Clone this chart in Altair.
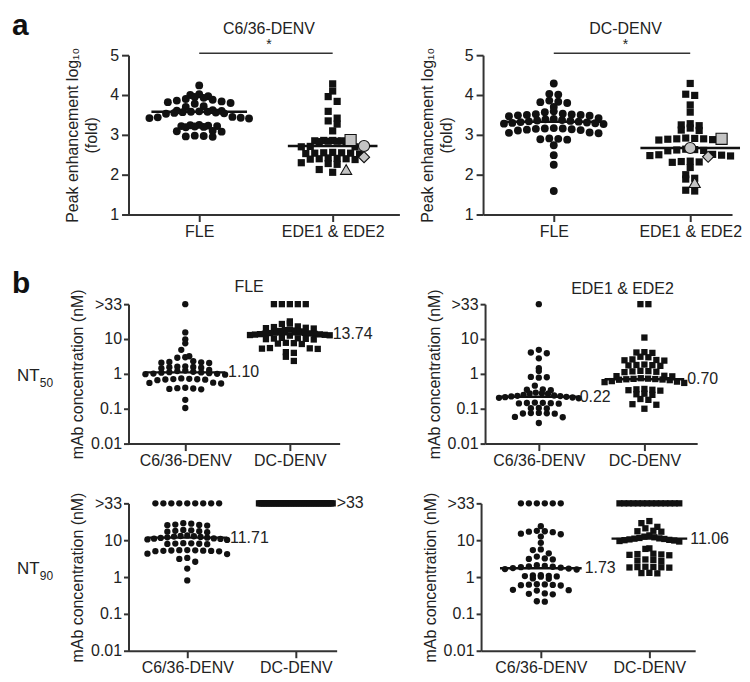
import math
import altair as alt
import pandas as pd

GT = ">33"  # above the top of the dilution series

# ---------------- a : peak enhancement, log10 (fold) ----------------
a_groups = ["FLE", "EDE1 & EDE2"]
a_c636_fle = [4.24, 4.02, 4.00, 3.97, 3.95, 3.93, 3.90, 3.88, 3.86, 3.84, 3.82, 3.80, 3.78,
              3.72, 3.70,
              3.62, 3.61, 3.60, 3.59, 3.58, 3.58, 3.57, 3.56, 3.55, 3.54, 3.53,
              3.45, 3.44, 3.43, 3.42, 3.41,
              3.25, 3.24, 3.23, 3.22, 3.22, 3.21, 3.20, 3.19,
              3.10, 3.09, 3.08,
              2.98, 2.97, 2.96, 2.95]
a_c636_ede = [4.28, 4.10, 3.96, 3.84, 3.59, 3.42, 3.35, 3.27, 3.10,
              2.86, 2.86, 2.85, 2.85, 2.84, 2.84, 2.83, 2.83,
              2.71, 2.70, 2.70,
              2.56, 2.55, 2.55, 2.54, 2.54, 2.53, 2.52,
              2.42, 2.41, 2.40, 2.40, 2.39, 2.38,
              2.30, 2.28, 2.26, 2.13, 2.06]
special_shapes = ["circle", "square", "diamond", "triangle-up"]
a_c636_special = [2.72, 2.87, 2.44, 2.13]
a_c636_medians = [3.58, 2.72]

a_dc_fle = [4.29, 4.03, 4.01, 3.86, 3.83, 3.82, 3.80, 3.70, 3.59, 3.57,
            3.53, 3.52, 3.51, 3.50, 3.50, 3.49, 3.48, 3.47,
            3.42, 3.40, 3.39, 3.37, 3.36, 3.35, 3.34, 3.33, 3.32, 3.31, 3.30, 3.29, 3.28, 3.27,
            3.17, 3.16, 3.16, 3.15, 3.14, 3.13, 3.12, 3.11,
            3.06, 3.05, 3.04,
            2.91, 2.90, 2.89, 2.88,
            2.74, 2.49, 2.25, 1.59]
a_dc_ede = [4.29, 4.02, 3.99, 3.75, 3.57, 3.28, 3.25, 3.23, 3.17, 3.12, 3.11,
            2.92, 2.91, 2.90, 2.90, 2.89, 2.88, 2.87,
            2.64, 2.63, 2.62, 2.61, 2.60,
            2.51, 2.50, 2.49, 2.48, 2.47,
            2.34, 2.33, 2.32, 2.31,
            2.18, 2.00, 1.91, 1.89, 1.61, 1.59]
a_dc_special = [2.67, 2.90, 2.45, 1.80]
a_dc_medians = [3.33, 2.67]

# ---------------- b : neutralisation, mAb concentration (nM) ----------------
b_groups = ["C6/36-DENV", "DC-DENV"]
nt50_fle_c636 = [GT, 15.5, 9.8, 7.5, 4.9, 3.2, 3.0, 2.9, 2.3, 2.2, 2.15, 2.1, 2.05,
                 1.65, 1.6, 1.58, 1.55, 1.5, 1.45,
                 1.3, 1.25, 1.2, 1.15, 1.12, 1.1, 1.08, 1.05, 1.02, 1.0, 0.98, 0.95,
                 0.74, 0.72, 0.71, 0.70, 0.69, 0.68, 0.66,
                 0.56, 0.55, 0.53,
                 0.40, 0.39, 0.38, 0.37, 0.36,
                 0.18, 0.105]
nt50_fle_dc = [GT, GT, GT, GT, GT, 32, 28, 27, 23, 22, 21, 20.5, 20, 18.5, 18, 17.5, 17, 16.5,
               15.5, 15, 14.8, 14.5, 14.2, 14, 13.8, 13.6, 13.4, 13.2, 13, 12.8, 12.5,
               10.8, 10.5, 10.3, 10.1, 9.9, 9.7,
               7.8, 7.6, 7.4, 7.2,
               5.5, 5.4, 5.3, 5.2,
               4.2, 4.0, 3.1, 2.35]
nt50_fle_medians = [1.10, 13.74]

nt50_ede_c636 = [GT, 4.9, 4.1, 3.9, 2.8, 1.45, 1.2, 0.82, 0.80, 0.78, 0.46,
                 0.36, 0.35, 0.34, 0.29, 0.28, 0.275, 0.27,
                 0.25, 0.24, 0.235, 0.23, 0.225, 0.22, 0.215, 0.21, 0.205, 0.20,
                 0.15, 0.148, 0.146, 0.144, 0.142, 0.14,
                 0.105, 0.104, 0.102,
                 0.076, 0.075, 0.074, 0.073, 0.072,
                 0.058, 0.057, 0.039]
nt50_ede_dc = [GT, GT, 11, 4.2, 4.1, 4.0, 3.1, 3.0, 2.6, 2.5, 2.45, 2.4,
               1.85, 1.8, 1.78, 1.75, 1.7,
               1.22, 1.2, 1.18, 1.15, 1.12,
               0.88, 0.86, 0.85,
               0.75, 0.73, 0.72, 0.71, 0.70, 0.69, 0.68, 0.66, 0.62, 0.60, 0.58, 0.55,
               0.37, 0.36, 0.35, 0.34, 0.33,
               0.27, 0.26, 0.25,
               0.19, 0.18, 0.135, 0.13, 0.10]
nt50_ede_medians = [0.22, 0.70]

nt90_fle_c636 = [GT, GT, GT, GT, GT, GT, GT, GT, GT,
                 29, 28, 26.5, 26, 25.5, 25, 19, 18.5, 18, 17.5, 17, 16.5,
                 13.5, 13, 12.8, 12.5, 12.2, 12, 11.7, 11.5, 11.2, 11, 10.8, 10.5, 10.2,
                 8.3, 8.2, 8.1, 8.0, 7.9, 7.8,
                 5.4, 5.35, 5.3, 5.25, 5.2, 5.15, 5.1, 5.05, 5.0,
                 4.3, 4.2, 3.3, 3.1, 2.6, 1.7, 0.81]
nt90_fle_dc = [GT] * 45
nt90_fle_medians = [11.71, GT]

nt90_ede_c636 = [GT, GT, GT, GT, GT, GT,
                 24, 18, 17.5, 17, 16.5, 15, 14.5, 12.5, 8.5, 5.6, 5.4, 4.4, 3.6, 3.2, 3.1, 3.0,
                 2.1, 2.0, 1.95, 1.9, 1.85, 1.8, 1.75, 1.7, 1.65, 1.6,
                 1.12, 1.1, 1.08, 1.06, 1.04, 1.02, 0.92, 0.90,
                 0.64, 0.63, 0.62, 0.61, 0.60, 0.59,
                 0.45, 0.44, 0.43, 0.36, 0.35, 0.34, 0.22, 0.215]
nt90_ede_dc = [GT] * 14 + [33, 29, 23, 21, 18, 17.5, 17,
               13.5, 12.5, 12, 11.5, 11.2, 11, 10.8, 10.5, 10.2, 10, 9.8, 9.5, 9.2,
               6.0, 5.8, 4.3, 4.2, 4.1, 4.0, 3.9, 3.0, 2.9, 2.8, 2.7,
               1.9, 1.88, 1.86, 1.84, 1.82, 1.8, 1.3, 1.28, 1.26]
nt90_ede_medians = [1.73, 11.06]

# ---------------- styling ----------------
FONT = "Liberation Sans"
INK = "#111111"
TXT = "#222222"
AXC = "#333333"
GRAY = "#c4c4c4"
GT_POS = 100.0  # where the ">33" row sits on the log axis


def plotval(v):
    return GT_POS if v == GT else float(v)


def fmt(v):
    return GT if v == GT else f"{v:.2f}"


def swarm(vals, h, lo, hi, log, row_px, step_px, max_px):
    """GraphPad-like scatter: points in the same pixel row are spread sideways."""
    def ypx(v):
        if log:
            t = (math.log10(v) - math.log10(lo)) / (math.log10(hi) - math.log10(lo))
        else:
            t = (v - lo) / (hi - lo)
        return h * (1 - t)
    ys = [ypx(v) for v in vals]
    rows = {}
    for i, y in enumerate(ys):
        rows.setdefault(int(round(y / row_px)), []).append(i)
    offs = [0.0] * len(vals)
    for idx in rows.values():
        m = len(idx)
        s = step_px if m < 2 or (m - 1) * step_px <= max_px else max_px / (m - 1)
        slots = sorted([(j - (m - 1) / 2) * s for j in range(m)], key=lambda o: (abs(o), o))
        for i, o in zip(idx, slots):
            offs[i] = o
    return offs


def panel(kind, groups, names, medians, specials, w, h, t0, gap, hw, row_px, step_px,
          max_px, dot_size, sq_size, med_labels, annots, rules=()):
    log = kind == "b"
    lo, hi = (0.01, 100.0) if log else (1.0, 5.0)
    xs = alt.Scale(domain=[-t0 / gap, (w - t0) / gap], nice=False, zero=False)
    if log:
        ys = alt.Scale(type="log", domain=[lo, hi], nice=False)
        yaxis = alt.Axis(values=[0.01, 0.1, 1, 10, 100],
                         labelExpr="datum.value >= 50 ? '>33' : datum.value >= 5 ? '10' : "
                                   "datum.value >= 0.5 ? '1' : datum.value >= 0.05 ? '0.1' : '0.01'",
                         tickSize=5, labelPadding=2, title="mAb concentration (nM)",
                         titlePadding=5)
        xaxis = alt.Axis(values=[0, 1], labelExpr="datum.value < 0.5 ? '%s' : '%s'" % tuple(names),
                         tickSize=7, labelPadding=2, title=None)
    else:
        ys = alt.Scale(domain=[lo, hi], nice=False, zero=False)
        yaxis = alt.Axis(values=[1, 2, 3, 4, 5], format="d", tickSize=7, labelPadding=3,
                         title=["Peak enhancement log\u2081\u2080", "(fold)"], titlePadding=10,
                         titleLineHeight=19)
        xaxis = alt.Axis(values=[0, 1], labelExpr="datum.value < 0.5 ? '%s' : '%s'" % tuple(names),
                         tickSize=7, labelPadding=2, title=None)

    dots, sqs, spc = [], [], []
    for gi, vals in enumerate(groups):
        items = [(plotval(v), "dot" if gi == 0 else "sq") for v in vals]
        if gi == 1 and specials:
            items += [(v, s) for v, s in zip(specials, special_shapes)]
        offs = swarm([v for v, _ in items], h, lo, hi, log, row_px, step_px, max_px[gi])
        for (v, k), o in zip(items, offs):
            rec = {"x": gi + o / gap, "y": v, "kind": k}
            (dots if k == "dot" else sqs if k == "sq" else spc).append(rec)

    X = lambda f: alt.X(f, type="quantitative", scale=xs, axis=xaxis)
    Y = lambda f: alt.Y(f, type="quantitative", scale=ys, axis=yaxis)

    layers = [
        alt.Chart(pd.DataFrame(dots)).mark_circle(size=dot_size, color=INK, opacity=1)
        .encode(x=X("x"), y=Y("y")),
        alt.Chart(pd.DataFrame(sqs)).mark_square(size=sq_size, color=INK, opacity=1)
        .encode(x=X("x"), y=Y("y")),
    ]
    med = pd.DataFrame({
        "x": [i - hw[i] / gap for i in range(2)],
        "x2": [i + hw[i] / gap for i in range(2)],
        "y": [plotval(m) for m in medians],
        "label": [fmt(m) for m in medians],
    })
    layers.append(alt.Chart(med).mark_rule(color=INK, strokeWidth=2.4)
                  .encode(x=X("x"), x2="x2:Q", y=Y("y")))
    if spc:
        layers.append(
            alt.Chart(pd.DataFrame(spc)).mark_point(filled=True, fill=GRAY, stroke=INK,
                                                    strokeWidth=1.1, size=125, opacity=1)
            .encode(x=X("x"), y=Y("y"),
                    shape=alt.Shape("kind:N", scale=alt.Scale(domain=special_shapes,
                                                              range=special_shapes), legend=None)))
    if med_labels:
        layers.append(alt.Chart(med).mark_text(align="left", baseline="middle", dx=3, font=FONT,
                                               fontSize=16, color=TXT)
                      .encode(x=alt.X("x2", type="quantitative", scale=xs, axis=xaxis),
                              y=Y("y"), text="label:N"))
    for (x1, x2, yv) in rules:
        layers.append(alt.Chart(pd.DataFrame({"x": [x1], "x2": [x2]}))
                      .mark_rule(color=AXC, strokeWidth=1.6)
                      .encode(x=X("x"), x2="x2:Q", y=alt.value(yv)))
    for t in annots:
        txt, px, py, fs = t[:4]
        opts = dict(font=FONT, fontSize=fs, color=TXT, align="center", baseline="middle")
        if len(t) > 4:
            opts.update(t[4])
        layers.append(alt.Chart(pd.DataFrame({"t": [txt]})).mark_text(**opts)
                      .encode(text="t:N", x=alt.value(px), y=alt.value(py)))
    return alt.layer(*layers).properties(width=w, height=h)


BOLD = {"fontWeight": "bold", "align": "left", "baseline": "alphabetic", "color": "#111111"}
LEFT = {"align": "left"}

aL = panel("a", [a_c636_fle, a_c636_ede], a_groups, a_c636_medians, a_c636_special,
           w=272, h=160, t0=71, gap=134, hw=[48, 45], row_px=7.5, step_px=9,
           max_px=[100, 100], dot_size=62, sq_size=52, med_labels=False,
           annots=[("a", -117, -20, 30, BOLD), ("C6/36-DENV", 141, -26, 16), ("*", 141, -10, 14)],
           rules=[(0, 1, -2)])
aR = panel("a", [a_dc_fle, a_dc_ede], a_groups, a_dc_medians, a_dc_special,
           w=250, h=160, t0=71, gap=137, hw=[52, 50], row_px=7.5, step_px=9,
           max_px=[100, 100], dot_size=62, sq_size=52, med_labels=False,
           annots=[("DC-DENV", 143, -26, 16), ("*", 143, -10, 14)],
           rules=[(0, 1, -2)])

b1L = panel("b", [nt50_fle_c636, nt50_fle_dc], b_groups, nt50_fle_medians, None,
            w=212, h=140, t0=57, gap=105, hw=[40, 40], row_px=7, step_px=8,
            max_px=[80, 80], dot_size=40, sq_size=40, med_labels=True,
            annots=[("b", -117, -11, 30, BOLD), ("FLE", 121, -17, 16),
                    ("NT", -112, 72, 17, LEFT), ("50", -89, 79, 12, LEFT)])
b1R = panel("b", [nt50_ede_c636, nt50_ede_dc], b_groups, nt50_ede_medians, None,
            w=213, h=140, t0=54, gap=106, hw=[38, 40], row_px=7, step_px=8,
            max_px=[80, 80], dot_size=40, sq_size=40, med_labels=True,
            annots=[("EDE1 & EDE2", 138, -15, 16)])
b2L = panel("b", [nt90_fle_c636, nt90_fle_dc], b_groups, nt90_fle_medians, None,
            w=209, h=148, t0=59, gap=109, hw=[40, 38], row_px=7, step_px=8,
            max_px=[80, 74], dot_size=40, sq_size=40, med_labels=True,
            annots=[("NT", -112, 66, 17, LEFT), ("90", -89, 73, 12, LEFT)])
b2R = panel("b", [nt90_ede_c636, nt90_ede_dc], b_groups, nt90_ede_medians, None,
            w=215, h=148, t0=60, gap=109, hw=[41, 38], row_px=7, step_px=8,
            max_px=[80, 60], dot_size=40, sq_size=40, med_labels=True,
            annots=[])

row_a = alt.hconcat(aL, aR, spacing=84, bounds="flush")
row_b1 = alt.hconcat(b1L, b1R, spacing=146, bounds="flush")
row_b2 = alt.hconcat(b2L, b2R, spacing=145, bounds="flush")
rows_b = alt.vconcat(row_b1, row_b2, spacing=23)

chart = (
    alt.vconcat(row_a, rows_b, spacing=30)
    .properties(padding={"left": 4, "top": 2, "right": 0, "bottom": 0})
    .configure_view(stroke=None)
    .configure_axis(grid=False, domainColor=AXC, tickColor=AXC, domainWidth=2, tickWidth=2,
                    labelFont=FONT, titleFont=FONT, labelFontSize=16, titleFontSize=16,
                    labelColor=TXT, titleColor=TXT, titleFontWeight="normal", labelOverlap=False)
)

chart.save("out.html", embed_options={"renderer": "svg", "actions": False})
